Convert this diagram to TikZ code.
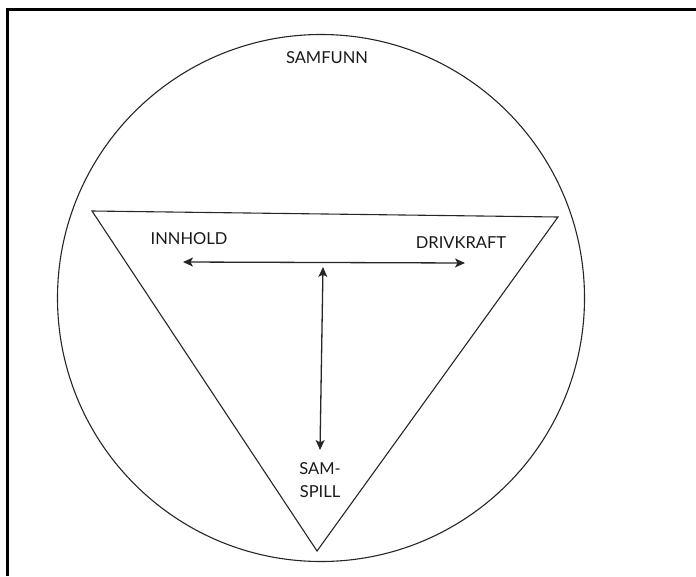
\documentclass[tikz,border=0pt]{standalone}
\usepackage{fontspec}
\setmainfont{Lato}
\usetikzlibrary{arrows.meta}
\begin{document}
\begin{tikzpicture}[x=1pt,y=-1pt,
  lbl/.style={font=\fontsize{16.5}{18}\selectfont, text=black!90, inner sep=0pt, align=center},
  thin line/.style={line width=1.1pt, black!85},
  arr/.style={line width=1.3pt, black!85, {Stealth[length=10pt,width=9pt,inset=2.5pt]}-{Stealth[length=10pt,width=9pt,inset=2.5pt]}}]
\useasboundingbox (0,0) rectangle (696,576);
% frame (top and left only)
\draw[line width=3pt] (7,576) -- (7,9) -- (696,9);
% circle
\node[circle, draw, thin line, minimum size=527pt, inner sep=0pt] (ring) at (321,298) {};
% triangle
\coordinate (tl) at (92,211);
\coordinate (tr) at (558,217);
\coordinate (ap) at (317,551);
\draw[thin line, line join=miter] (tl) -- (tr) -- (ap) -- cycle;
% labels
\node[lbl] (samfunn) at (327,58) {SAMFUNN};
\node[lbl] (innhold) at (189,239) {INNHOLD};
\node[lbl] (drivkraft) at (461,243) {DRIVKRAFT};
\node[lbl, font=\fontsize{16.5}{23}\selectfont] (samspill) at (320,480) {SAM-\\SPILL};
% arrows
\coordinate (hl) at (183,262);
\coordinate (hr) at (465,263);
\coordinate (vt) at (323,267);
\coordinate (vb) at (320,450);
\draw[arr] (hl) -- (hr);
\draw[arr] (vt) -- (vb);
\end{tikzpicture}
\end{document}
